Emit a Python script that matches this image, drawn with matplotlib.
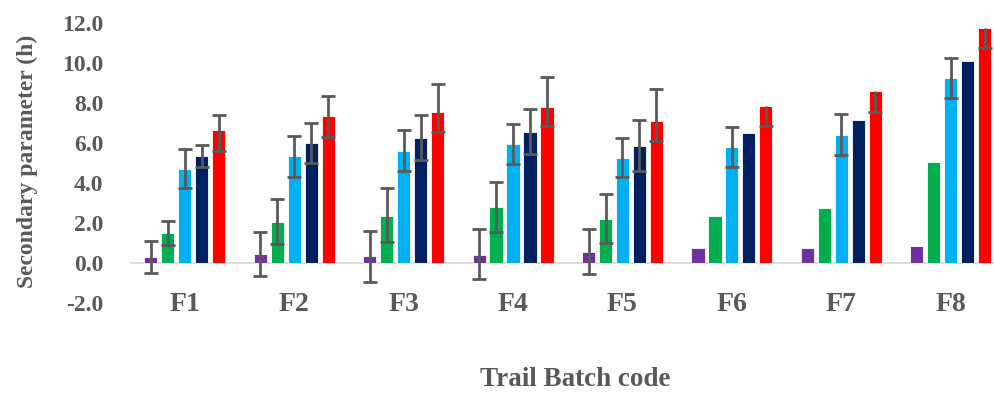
import matplotlib
matplotlib.use("Agg")
import matplotlib.pyplot as plt
import numpy as np

plt.rcParams["font.family"] = ["Liberation Serif", "DejaVu Serif"]
plt.rcParams["font.weight"] = "bold"
plt.rcParams["axes.unicode_minus"] = False

batches = ["F1", "F2", "F3", "F4", "F5", "F6", "F7", "F8"]

purple_vals = [0.28, 0.45, 0.35, 0.38, 0.53, 0.73, 0.73, 0.83]
purple_lo = [0.78, 1.12, 1.28, 1.2, 1.08, 0, 0, 0]
purple_hi = [0.82, 1.08, 1.25, 1.3, 1.15, 0, 0, 0]

green_vals = [1.52, 2.07, 2.35, 2.8, 2.2, 2.35, 2.75, 5.07]
green_lo = [0.6, 1.1, 1.32, 1.27, 1.22, 0, 0, 0]
green_hi = [0.6, 1.12, 1.38, 1.23, 1.25, 0, 0, 0]

cyan_vals = [4.72, 5.37, 5.6, 5.95, 5.25, 5.8, 6.38, 9.25]
cyan_lo = [0.99, 1.05, 0.98, 1.02, 0.97, 0.98, 0.98, 1.0]
cyan_hi = [1.0, 0.98, 1.05, 0.98, 1.02, 1.0, 1.05, 0.98]

navy_vals = [5.37, 6.02, 6.25, 6.53, 5.85, 6.48, 7.13, 10.08]
navy_lo = [0.55, 1.0, 1.08, 1.08, 1.23, 0, 0, 0]
navy_hi = [0.53, 0.96, 1.13, 1.17, 1.3, 0, 0, 0]

red_vals = [6.65, 7.35, 7.57, 7.82, 7.08, 7.87, 8.62, 11.75]
red_lo = [1.05, 1.03, 1.02, 0.97, 0.96, 1.02, 1.05, 1.0]
red_hi = [0.73, 1.02, 1.38, 1.48, 1.62, 0, 0, 0]

series = [
    (purple_vals, purple_lo, purple_hi, "#7030A0"),
    (green_vals, green_lo, green_hi, "#00B050"),
    (cyan_vals, cyan_lo, cyan_hi, "#00B0F0"),
    (navy_vals, navy_lo, navy_hi, "#002060"),
    (red_vals, red_lo, red_hi, "#FF0000"),
]

TEXT = "#595959"
step = 0.155
width = 0.12

fig = plt.figure(figsize=(9.94, 3.93), dpi=100)
ax = fig.add_axes([130 / 994, 90 / 393, 864 / 994, 280 / 393])

x = np.arange(len(batches))
for i, (vals, lo, hi, color) in enumerate(series):
    xs = x + (i - 2) * step
    ax.bar(xs, vals, width=width, color=color, edgecolor="white", linewidth=0.6, zorder=2)
    vals, lo, hi = np.array(vals), np.array(lo), np.array(hi)
    both = (lo > 0) & (hi > 0)
    only_lo = (lo > 0) & (hi == 0)
    if both.any():
        ax.errorbar(xs[both], vals[both], yerr=[lo[both], hi[both]], fmt="none",
                    ecolor=TEXT, elinewidth=2, capsize=4.7, capthick=2, zorder=3)
    if only_lo.any():
        # minus-only bars: hide the upper caps
        eb = ax.errorbar(xs[only_lo], vals[only_lo], yerr=[lo[only_lo], hi[only_lo]], fmt="none",
                         ecolor=TEXT, elinewidth=2, capsize=4.7, capthick=2, zorder=3)
        eb[1][1].set_visible(False)

ax.axhline(0, color="#D9D9D9", linewidth=1.2, zorder=1)

ax.set_xlim(-0.5, 7.395)
ax.set_ylim(-2, 12)
ax.set_yticks(np.arange(-2, 12.1, 2))
ax.set_yticklabels([f"{v:.1f}" for v in np.arange(-2, 12.1, 2)])
ax.set_xticks(x)
ax.set_xticklabels(batches)

for s in ax.spines.values():
    s.set_visible(False)

ax.tick_params(axis="y", length=0, pad=19, labelsize=17, labelcolor=TEXT)
ax.tick_params(axis="x", length=0, pad=-8, labelsize=20, labelcolor=TEXT)

ax.set_ylabel("Secondary parameter (h)", fontsize=17, fontweight="bold", color=TEXT)
ax.yaxis.set_label_coords(-0.1065, 0.507)
ax.set_xlabel("Trail Batch code", fontsize=19.5, fontweight="bold", color=TEXT)
ax.xaxis.set_label_coords(0.5156, -0.228)

fig.savefig("out.png", dpi=100)
